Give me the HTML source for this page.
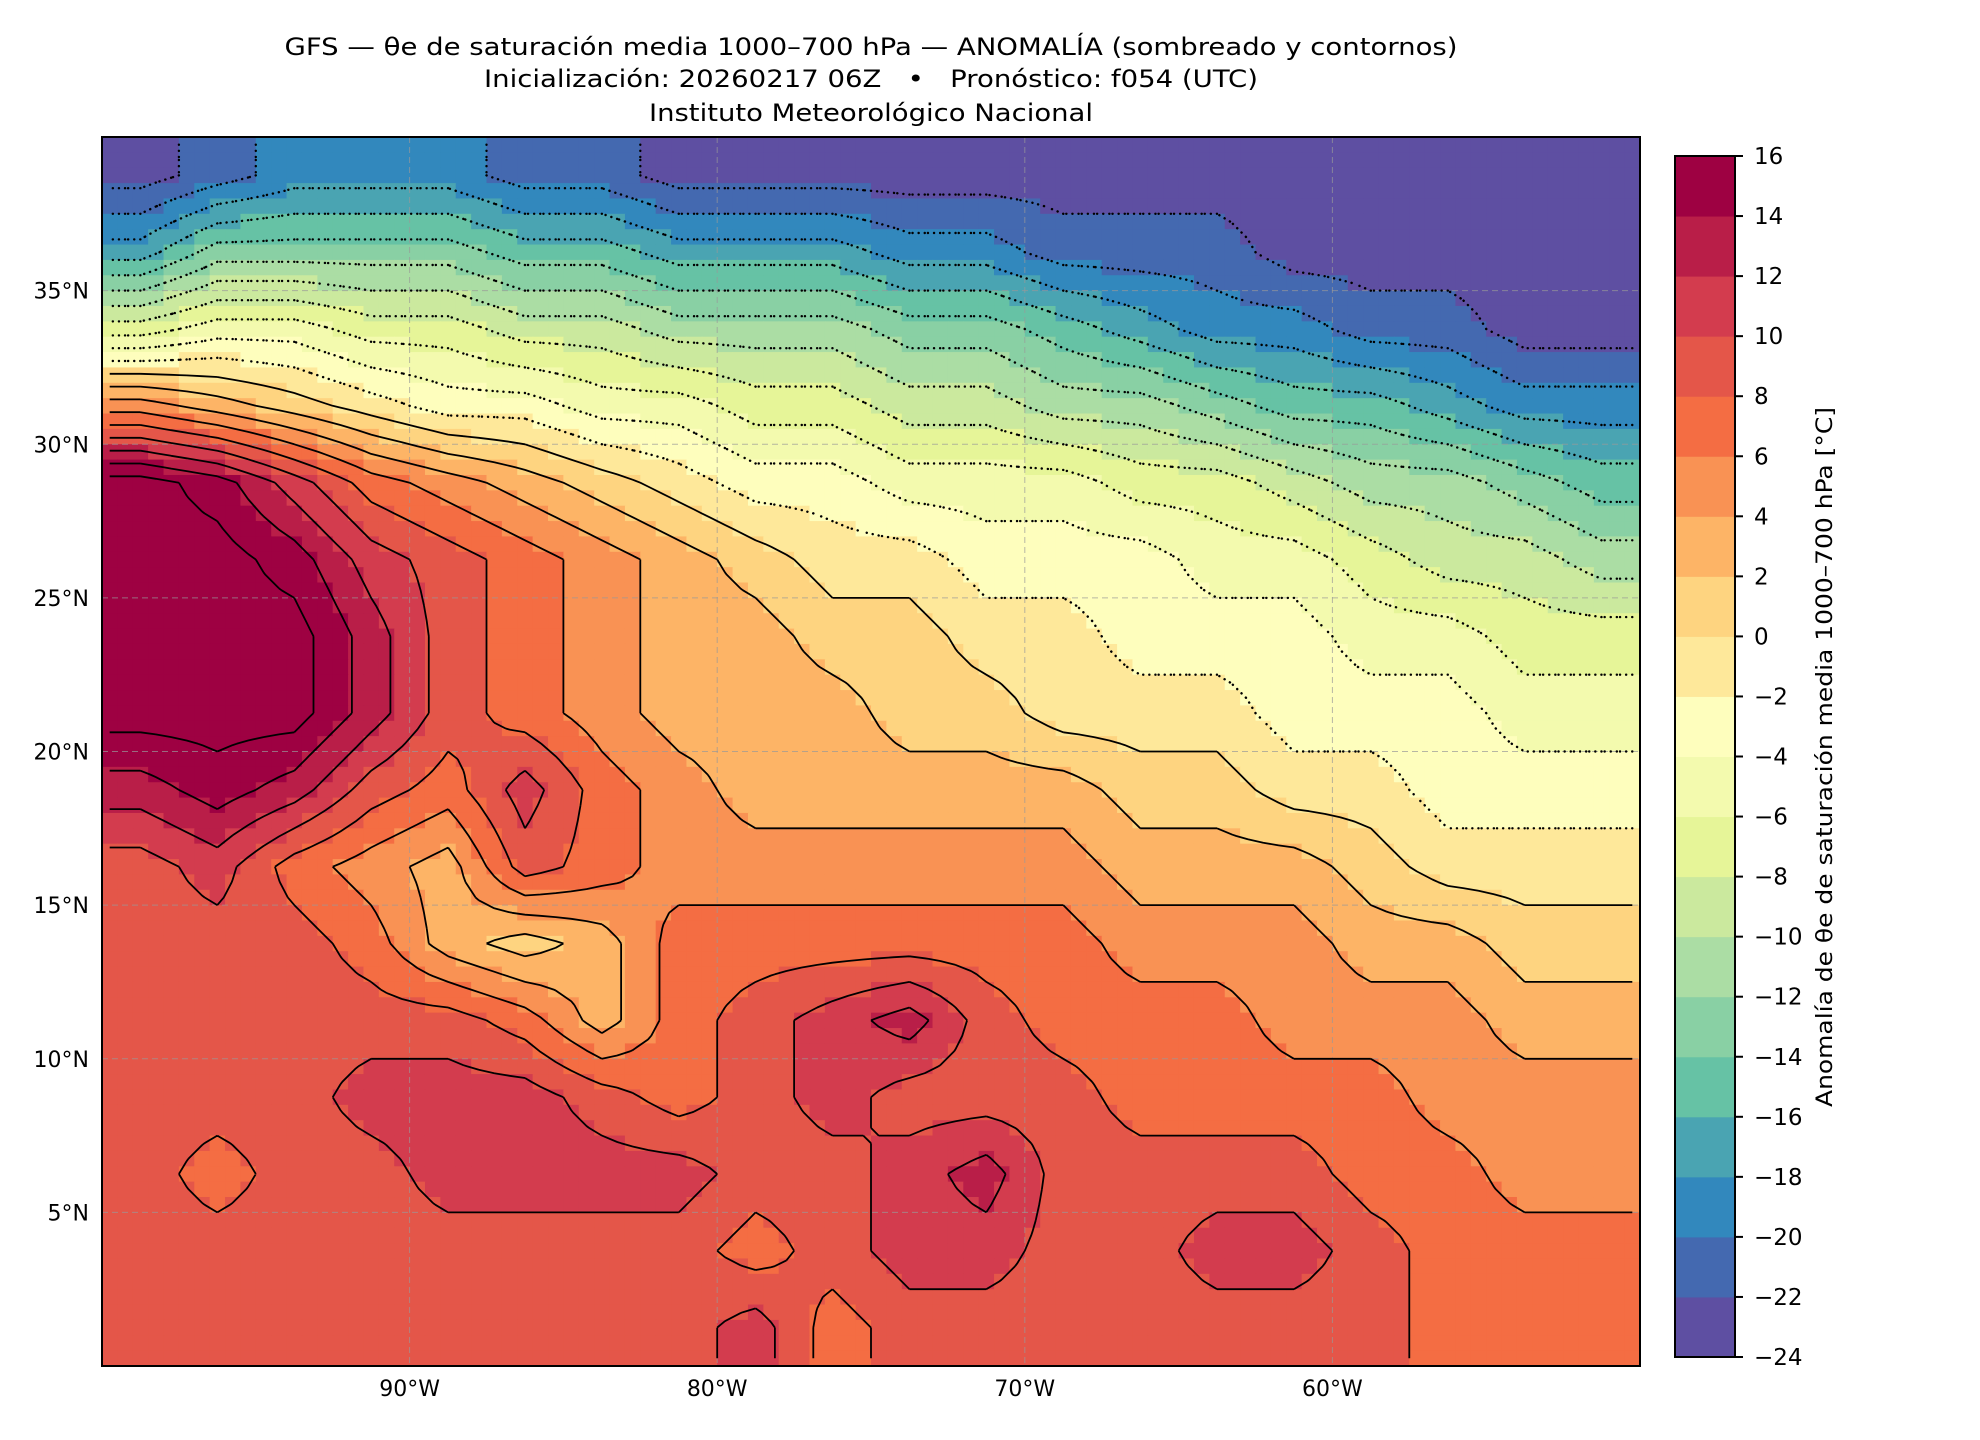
<!DOCTYPE html>
<html><head><meta charset="utf-8"><style>
html,body{margin:0;padding:0;background:#fff;}
svg{display:block;font-family:"DejaVu Sans","Liberation Sans",sans-serif;}
</style></head><body>
<svg id="fig" width="1980" height="1440" viewBox="0 0 1980 1440" xmlns="http://www.w3.org/2000/svg">
<g font-size="24" text-anchor="middle" fill="#000">
<text x="871" y="55" textLength="1173" lengthAdjust="spacingAndGlyphs">GFS — θe de saturación media 1000–700 hPa — ANOMALÍA (sombreado y contornos)</text>
<text x="871" y="87" textLength="774" lengthAdjust="spacingAndGlyphs" xml:space="preserve">Inicialización: 20260217 06Z   •   Pronóstico: f054 (UTC)</text>
<text x="871" y="121" textLength="444" lengthAdjust="spacingAndGlyphs">Instituto Meteorológico Nacional</text>
</g>
<clipPath id="mapclip"><rect x="102" y="137" width="1538" height="1229"/></clipPath>
<g id="heat"></g>
<g id="grid"></g>
<g id="cont" clip-path="url(#mapclip)"></g>
<rect x="102" y="137" width="1538" height="1229" fill="none" stroke="#000" stroke-width="2"/>
<g id="axes" font-size="22" fill="#000"></g>
<g id="cbar"></g>
<text x="1832" y="757" font-size="22" text-anchor="middle" transform="rotate(-90 1832 757)" textLength="700" lengthAdjust="spacingAndGlyphs">Anomalía de θe de saturación media 1000–700 hPa [°C]</text>
</svg>
<script>
// Data arrays
const lonCenters = [-98.75,-96.25,-93.75,-91.25,-88.75,-86.25,-83.75,-81.25,-78.75,-76.25,-73.75,-71.25,-68.75,-66.25,-63.75,-61.25,-58.75,-56.25,-53.75,-51.25];
const latCenters = [38.75,36.25,33.75,31.25,28.75,26.25,23.75,21.25,18.75,16.25,13.75,11.25,8.75,6.25,3.75,1.25];
const row38 = [-24,-22,-20,-20,-20,-22,-22,-24,-24,-24,-24,-24,-24,-24,-24,-24,-24,-24,-24,-24];
const row36 = [-18,-14,-14,-14,-14,-16,-16,-18,-18,-18,-20,-20,-22,-22,-22,-24,-24,-24,-24,-24];
const row33 = [-8,-6,-6,-8,-8,-10,-10,-12,-12,-12,-14,-14,-16,-18,-20,-20,-22,-22,-24,-24];
const row31 = [4,2,0,-2,-4,-4,-6,-6,-8,-8,-10,-10,-12,-12,-14,-16,-16,-18,-20,-20];
const row28 = [16,14,10,6,4,2,0,-2,-4,-4,-6,-6,-6,-8,-8,-10,-12,-12,-14,-16];
const row26 = [16,16,14,10,8,6,4,2,0,-2,-2,-4,-4,-4,-6,-6,-8,-10,-10,-12];
const row23 = [16,16,16,12,8,6,4,2,2,0,0,-2,-2,-4,-4,-4,-6,-6,-8,-8];
const row21 = [16,16,16,12,8,6,4,2,2,2,0,0,-2,-2,-2,-4,-4,-4,-6,-6];
const row18 = [12,14,12,8,6,10,6,4,2,2,2,2,2,0,0,-2,-2,-4,-4,-4];
const row16 = [8,10,6,4,2,8,6,4,4,4,4,4,4,2,2,2,0,-2,-2,-2];
const row13 = [8,8,8,6,2,0,2,6,6,6,6,6,6,4,4,4,2,2,0,0];
const row11 = [8,8,8,8,8,6,2,6,8,10,12,8,6,6,6,4,4,4,2,2];
const row08 = [8,8,8,10,10,10,8,6,8,10,8,8,8,6,6,6,6,4,4,4];
const row06 = [8,6,8,8,10,10,10,10,8,8,10,12,8,8,8,8,6,6,4,4];
const row03 = [8,8,8,8,8,8,8,8,6,8,10,10,8,8,10,10,8,6,6,6];
const row01 = [8,8,8,8,8,8,8,8,10,6,8,8,8,8,8,8,8,6,6,6];
const rows = [row38,row36,row33,row31,row28,row26,row23,row21,row18,row16,row13,row11,row08,row06,row03,row01];
const levels = [-24,-22,-20,-18,-16,-14,-12,-10,-8,-6,-4,-2,0,2,4,6,8,10,12,14,16];
const lonTicks = [-90,-80,-70,-60];
const lonTickLabels = ["90°W","80°W","70°W","60°W"];
const latTicks = [5,10,15,20,25,30,35];
const latTickLabels = ["5°N","10°N","15°N","20°N","25°N","30°N","35°N"];

const colors = ["#5e4fa2","#4469b0","#3288bd","#4aa4b2","#66c2a5","#89d0a4","#abdda4","#cbe99e","#e6f598","#f3faae","#fefebd","#fee89a","#fed480","#fdb466","#f99254","#f46d43","#e45649","#d33c4e","#b91e48","#9e0142"];
const NS="http://www.w3.org/2000/svg";
const X0=102,X1=1640,Y0=137,Y1=1366;
const xs = lon => X0+(lon+100)/50*(X1-X0);
const ys = lat => Y0+(40-lat)/40*(Y1-Y0);
function colorFor(v){let i=Math.floor((v+24)/2);i=Math.max(0,Math.min(19,i));return colors[i];}
function sample(lon,lat){
  let fx=(lon-lonCenters[0])/2.5, fy=(latCenters[0]-lat)/2.5;
  fx=Math.max(0,Math.min(lonCenters.length-1,fx)); fy=Math.max(0,Math.min(latCenters.length-1,fy));
  const i0=Math.floor(fx),j0=Math.floor(fy),i1=Math.min(i0+1,lonCenters.length-1),j1=Math.min(j0+1,latCenters.length-1);
  const tx=fx-i0,ty=fy-j0;
  const a=rows[j0][i0]*(1-tx)+rows[j0][i1]*tx, b=rows[j1][i0]*(1-tx)+rows[j1][i1]*tx;
  return a*(1-ty)+b*ty+1;
}
const heat=document.getElementById('heat');
const step=0.5;
for(let lat=40;lat>0;lat-=step){
  for(let lon=-100;lon<-50;lon+=step){
    const v=sample(lon+step/2,lat-step/2);
    const r=document.createElementNS(NS,'rect');
    
    
    const x=xs(lon),y=ys(lat);
    r.setAttribute('x',x.toFixed(2));r.setAttribute('y',y.toFixed(2));
    r.setAttribute('width',(xs(lon+step)-x+0.6).toFixed(2));r.setAttribute('height',(ys(lat-step)-y+0.6).toFixed(2));
    r.setAttribute('fill',colorFor(v));
    heat.appendChild(r);
  }
}
// contours (marching squares on sampled field, at cell centers to match shading)
const cont=document.getElementById('cont');
const cs=0.5, nx=Math.round(50/cs), ny=Math.round(40/cs);
const F=[];
for(let j=0;j<ny;j++){F.push([]);for(let i=0;i<nx;i++){F[j].push(sample(-100+cs/2+i*cs,40-cs/2-j*cs));}}
levels.forEach(L=>{
  let d='';
  for(let j=0;j<ny-1;j++)for(let i=0;i<nx-1;i++){
    const a=F[j][i],b=F[j][i+1],c=F[j+1][i+1],e=F[j+1][i];
    const pts=[];
    const lonA=-100+cs/2+i*cs,latA=40-cs/2-j*cs;
    function ip(v1,v2){return (L-v1)/(v2-v1);}
    if((a<L)!==(b<L)){const t=ip(a,b);pts.push([lonA+t*cs,latA]);}
    if((b<L)!==(c<L)){const t=ip(b,c);pts.push([lonA+cs,latA-t*cs]);}
    if((e<L)!==(c<L)){const t=ip(e,c);pts.push([lonA+t*cs,latA-cs]);}
    if((a<L)!==(e<L)){const t=ip(a,e);pts.push([lonA,latA-t*cs]);}
    for(let k=0;k+1<pts.length;k+=2){
      d+='M'+xs(pts[k][0]).toFixed(1)+' '+ys(pts[k][1]).toFixed(1)+'L'+xs(pts[k+1][0]).toFixed(1)+' '+ys(pts[k+1][1]).toFixed(1);
    }
  }
  if(!d)return;
  const p=document.createElementNS(NS,'path');
  
  
  p.setAttribute('d',d);p.setAttribute('fill','none');p.setAttribute('stroke','#000');
  if(L<0){p.setAttribute('stroke-width','2.4');p.setAttribute('stroke-dasharray','0.1,6');p.setAttribute('stroke-linecap','round');}
  else{p.setAttribute('stroke-width','1.8');}
  cont.appendChild(p);
});
const grid=document.getElementById('grid'), axes=document.getElementById('axes');
lonTicks.forEach((lon,i)=>{
  const l=document.createElementNS(NS,'line');
  
  
  l.setAttribute('x1',xs(lon));l.setAttribute('x2',xs(lon));l.setAttribute('y1',Y0);l.setAttribute('y2',Y1);
  l.setAttribute('stroke','#999');l.setAttribute('stroke-dasharray','6,4');l.setAttribute('stroke-width','1');l.setAttribute('opacity','0.7');
  grid.appendChild(l);
  const t=document.createElementNS(NS,'text');
  
  
  t.setAttribute('x',xs(lon));t.setAttribute('y',1396);t.setAttribute('text-anchor','middle');
  t.textContent=lonTickLabels[i];axes.appendChild(t);
});
latTicks.forEach((lat,i)=>{
  const l=document.createElementNS(NS,'line');
  
  
  l.setAttribute('x1',X0);l.setAttribute('x2',X1);l.setAttribute('y1',ys(lat));l.setAttribute('y2',ys(lat));
  l.setAttribute('stroke','#999');l.setAttribute('stroke-dasharray','6,4');l.setAttribute('stroke-width','1');l.setAttribute('opacity','0.7');
  grid.appendChild(l);
  const t=document.createElementNS(NS,'text');
  
  
  t.setAttribute('x',89);t.setAttribute('y',ys(lat)+8);t.setAttribute('text-anchor','end');
  t.textContent=latTickLabels[i];axes.appendChild(t);
});
// colorbar
const cb=document.getElementById('cbar');
const CX=1675,CW=60,CT=156,CB=1357;
const cy=v=>CB-(v+24)/40*(CB-CT);
for(let i=0;i<20;i++){
  const r=document.createElementNS(NS,'rect');
  
  
  r.setAttribute('x',CX);r.setAttribute('y',cy(levels[i+1]));r.setAttribute('width',CW);r.setAttribute('height',cy(levels[i])-cy(levels[i+1])+0.5);
  r.setAttribute('fill',colors[i]);cb.appendChild(r);
}
const fr=document.createElementNS(NS,'rect');


fr.setAttribute('x',CX);fr.setAttribute('y',CT);fr.setAttribute('width',CW);fr.setAttribute('height',CB-CT);
fr.setAttribute('fill','none');fr.setAttribute('stroke','#000');fr.setAttribute('stroke-width','2');cb.appendChild(fr);
levels.forEach(v=>{
  const l=document.createElementNS(NS,'line');
  
  
  l.setAttribute('x1',CX+CW);l.setAttribute('x2',CX+CW+8);l.setAttribute('y1',cy(v));l.setAttribute('y2',cy(v));
  l.setAttribute('stroke','#000');l.setAttribute('stroke-width','2');cb.appendChild(l);
  const t=document.createElementNS(NS,'text');
  
  
  t.setAttribute('x',1754);t.setAttribute('y',cy(v)+8);t.setAttribute('font-size','23');
  t.textContent=(v<0?'−':'')+Math.abs(v);cb.appendChild(t);
});
</script>
</body></html>
